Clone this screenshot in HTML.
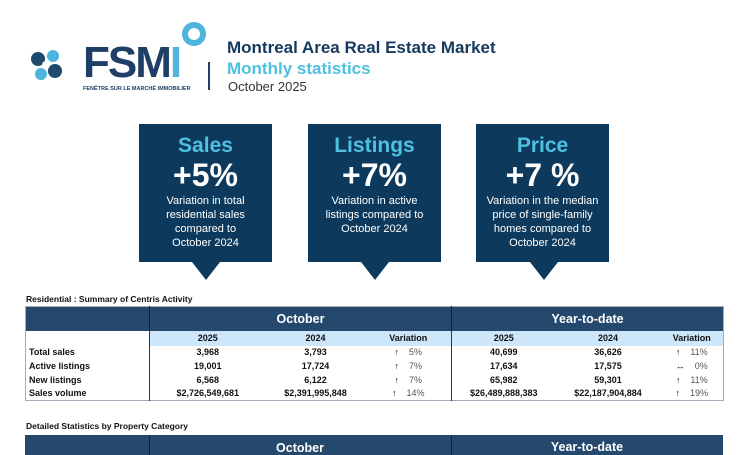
<!DOCTYPE html>
<html><head><meta charset="utf-8"><style>
*{margin:0;padding:0;box-sizing:border-box}
body{width:750px;height:450px;background:#fff;position:relative;overflow:hidden;font-family:"Liberation Sans",sans-serif}
.a{position:absolute}
.box{position:absolute;top:124px;width:133px;height:138px;background:#0d3a5c;color:#fff;text-align:center}
.box .t{color:#4fc0e0;font-size:21px;font-weight:bold;margin-top:10px;line-height:24px}
.box .v{font-size:32px;font-weight:bold;line-height:34px}
.box .d{font-size:11px;line-height:14px;margin-top:2px}
.tri{position:absolute;top:262px;width:0;height:0;border-left:14px solid transparent;border-right:14px solid transparent;border-top:18px solid #0d3a5c}
table{border-collapse:collapse;font-size:9px;table-layout:fixed}
td{height:13.7px;text-align:center;font-weight:bold;color:#111;overflow:hidden;white-space:nowrap}
.h{background:#24496d;color:#fff;font-size:12.5px;height:24px}
.s td{background:#cde6fa;height:15px;font-weight:bold}
td.l{text-align:left;padding-left:3px}
.var{font-weight:normal;color:#555}
.var b{color:#111;margin-right:10px}
</style></head><body>
<div class="a" style="left:28px;top:47px;width:36px;height:36px">
<svg width="36" height="36" viewBox="0 0 36 36"><circle cx="10" cy="12" r="7" fill="#1f4a6e"/><circle cx="25" cy="9" r="6" fill="#4fb5dd"/><circle cx="27" cy="24" r="7" fill="#1f4a6e"/><circle cx="13" cy="27" r="6" fill="#4fb5dd"/><circle cx="18" cy="18" r="4" fill="#fff"/></svg></div>
<div class="a" style="left:83px;top:38px;font-size:44px;font-weight:900;color:#1f3f66;letter-spacing:-2px;line-height:50px">FSM<span style="color:#4fb5dd">I</span></div>
<div class="a" style="left:182px;top:22px;width:24px;height:24px;border:6px solid #4fb5dd;border-radius:50%"></div>
<div class="a" style="left:83px;top:86px;font-size:5.5px;font-weight:bold;color:#1f3f66">FENÊTRE SUR LE MARCHÉ IMMOBILIER</div>
<div class="a" style="left:208px;top:62px;width:2px;height:28px;background:#1f3f66"></div>
<div class="a" style="left:227px;top:38px;font-size:17px;font-weight:bold;color:#163a5c">Montreal Area Real Estate Market</div>
<div class="a" style="left:227px;top:59px;font-size:17px;font-weight:bold;color:#4fc0e0">Monthly statistics</div>
<div class="a" style="left:228px;top:79px;font-size:13px;color:#333">October 2025</div>

<div class="box" style="left:139px"><div class="t">Sales</div><div class="v">+5%</div><div class="d">Variation in total<br>residential sales<br>compared to<br>October 2024</div></div>
<div class="tri" style="left:192px"></div>
<div class="box" style="left:308px"><div class="t">Listings</div><div class="v">+7%</div><div class="d">Variation in active<br>listings compared to<br>October 2024</div></div>
<div class="tri" style="left:361px"></div>
<div class="box" style="left:476px"><div class="t">Price</div><div class="v">+7 %</div><div class="d">Variation in the median<br>price of single-family<br>homes compared to<br>October 2024</div></div>
<div class="tri" style="left:530px"></div>

<div class="a" style="left:26px;top:294px;font-size:8.5px;font-weight:bold;color:#111">Residential : Summary of Centris Activity</div>
<table class="a" style="left:25px;top:306px;width:698px;border:1px solid #aab">
<colgroup><col style="width:124px"><col style="width:116px"><col style="width:100px"><col style="width:86px"><col style="width:104px"><col style="width:105px"><col style="width:63px"></colgroup>
<tr><td class="h"></td><td class="h" colspan="3" style="border-left:1px solid #123">October</td><td class="h" colspan="3" style="border-left:1px solid #123">Year-to-date</td></tr>
<tr class="s"><td style="background:#fff"></td><td style="border-left:1px solid #333">2025</td><td>2024</td><td>Variation</td><td style="border-left:1px solid #333">2025</td><td>2024</td><td>Variation</td></tr>
<tr><td class="l">Total sales</td><td style="border-left:1px solid #333">3,968</td><td>3,793</td><td class="var"><b>↑</b>5%</td><td style="border-left:1px solid #333">40,699</td><td>36,626</td><td class="var"><b>↑</b>11%</td></tr>
<tr><td class="l">Active listings</td><td style="border-left:1px solid #333">19,001</td><td>17,724</td><td class="var"><b>↑</b>7%</td><td style="border-left:1px solid #333">17,634</td><td>17,575</td><td class="var"><b>↔</b>0%</td></tr>
<tr><td class="l">New listings</td><td style="border-left:1px solid #333">6,568</td><td>6,122</td><td class="var"><b>↑</b>7%</td><td style="border-left:1px solid #333">65,982</td><td>59,301</td><td class="var"><b>↑</b>11%</td></tr>
<tr><td class="l">Sales volume</td><td style="border-left:1px solid #333">$2,726,549,681</td><td>$2,391,995,848</td><td class="var"><b>↑</b>14%</td><td style="border-left:1px solid #333">$26,489,888,383</td><td>$22,187,904,884</td><td class="var"><b>↑</b>19%</td></tr>
</table>

<div class="a" style="left:26px;top:421px;font-size:8.5px;font-weight:bold;color:#111">Detailed Statistics by Property Category</div>
<div class="a" style="left:25px;top:435px;width:698px;height:20px;background:#24496d;color:#fff;font-size:12.5px;font-weight:bold">
<div class="a" style="left:124px;top:0;width:1px;height:20px;background:#123"></div>
<div class="a" style="left:124px;top:6px;width:302px;text-align:center">October</div>
<div class="a" style="left:426px;top:0;width:1px;height:20px;background:#123"></div>
<div class="a" style="left:426px;top:5px;width:272px;text-align:center">Year-to-date</div></div>
</body></html>
